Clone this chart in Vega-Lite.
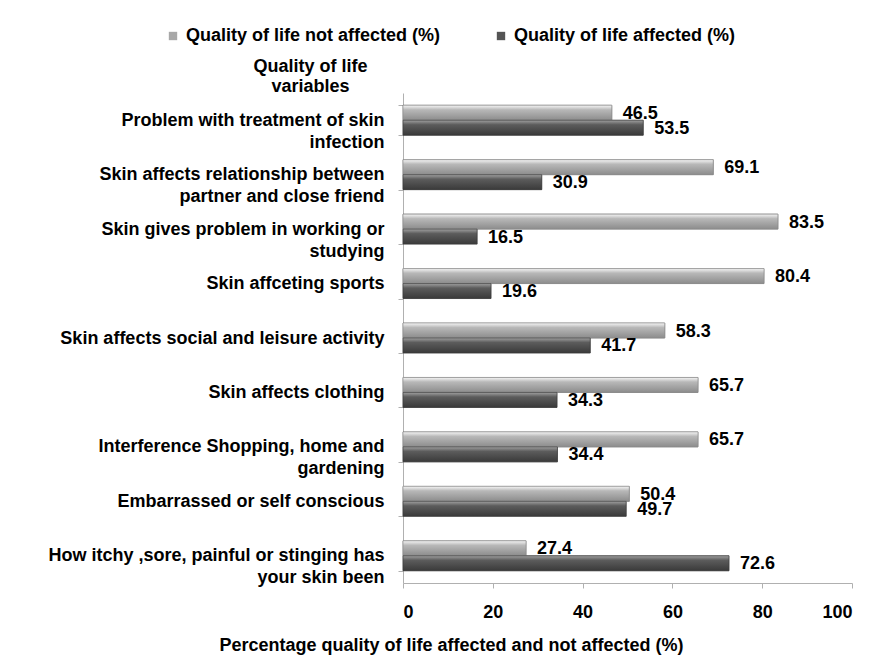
{
  "$schema": "https://vega.github.io/schema/vega-lite/v6.json",
  "width": 449,
  "height": 490,
  "autosize": {"type": "none"},
  "padding": {"left": 403, "top": 93, "right": 30, "bottom": 83},
  "background": "white",
  "config": {
    "font": "Liberation Sans",
    "view": {"stroke": null},
    "axis": {"labelFont": "Liberation Sans", "titleFont": "Liberation Sans", "labelFontWeight": "bold", "titleFontWeight": "bold", "labelColor": "black", "titleColor": "black", "domainColor": "#b0b0b0", "tickColor": "#b0b0b0", "grid": false}
  },
  "data": {
    "values": [
      {"variable": "Problem with treatment  of skin|infection", "series": "Quality of life not affected  (%)", "value": 46.5},
      {"variable": "Problem with treatment  of skin|infection", "series": "Quality of life affected  (%)", "value": 53.5},
      {"variable": "Skin affects  relationship between|partner and close friend", "series": "Quality of life not affected  (%)", "value": 69.1},
      {"variable": "Skin affects  relationship between|partner and close friend", "series": "Quality of life affected  (%)", "value": 30.9},
      {"variable": "Skin gives problem in working or|studying", "series": "Quality of life not affected  (%)", "value": 83.5},
      {"variable": "Skin gives problem in working or|studying", "series": "Quality of life affected  (%)", "value": 16.5},
      {"variable": "Skin affceting  sports", "series": "Quality of life not affected  (%)", "value": 80.4},
      {"variable": "Skin affceting  sports", "series": "Quality of life affected  (%)", "value": 19.6},
      {"variable": "Skin affects  social and leisure activity", "series": "Quality of life not affected  (%)", "value": 58.3},
      {"variable": "Skin affects  social and leisure activity", "series": "Quality of life affected  (%)", "value": 41.7},
      {"variable": "Skin affects  clothing", "series": "Quality of life not affected  (%)", "value": 65.7},
      {"variable": "Skin affects  clothing", "series": "Quality of life affected  (%)", "value": 34.3},
      {"variable": "Interference Shopping, home and|gardening", "series": "Quality of life not affected  (%)", "value": 65.7},
      {"variable": "Interference Shopping, home and|gardening", "series": "Quality of life affected  (%)", "value": 34.4},
      {"variable": "Embarrassed or self conscious", "series": "Quality of life not affected  (%)", "value": 50.4},
      {"variable": "Embarrassed or self conscious", "series": "Quality of life affected  (%)", "value": 49.7},
      {"variable": "How itchy ,sore, painful or stinging has|your skin been", "series": "Quality of life not affected  (%)", "value": 27.4},
      {"variable": "How itchy ,sore, painful or stinging has|your skin been", "series": "Quality of life affected  (%)", "value": 72.6}
    ]
  },
  "encoding": {
    "y": {
      "field": "variable", "type": "nominal", "sort": null,
      "scale": {"paddingInner": 0.45, "paddingOuter": 0.225},
      "axis": {
        "title": ["Quality of  life", "variables"],
        "titleAngle": 0, "titleX": -93, "titleY": -27, "titleAlign": "center", "titleBaseline": "middle",
        "titleFontSize": 18, "titleLineHeight": 20,
        "labelExpr": "split(datum.label, '|')",
        "labelFontSize": 18, "labelLineHeight": 22, "labelPadding": 14, "labelLimit": 400,
        "tickBand": "extent", "tickSize": 5
      }
    },
    "yOffset": {"field": "series", "type": "nominal", "sort": ["Quality of life not affected  (%)", "Quality of life affected  (%)"], "scale": {"paddingInner": 0}},
    "x": {
      "field": "value", "type": "quantitative",
      "scale": {"domain": [0, 100], "nice": false},
      "axis": {
        "title": "Percentage quality of life affected  and not affected  (%)",
        "values": [0, 20, 40, 60, 80, 100],
        "labelFontSize": 18, "labelPadding": 15, "tickSize": 5,
        "titleFontSize": 18, "titleX": 48, "titleY": 62, "titleAlign": "center", "titleBaseline": "middle"
      }
    }
  },
  "layer": [
    {
      "mark": {"type": "bar", "stroke": "#6a6a6a", "strokeWidth": 0.6},
      "encoding": {
        "color": {
          "field": "series", "type": "nominal",
          "sort": ["Quality of life not affected  (%)", "Quality of life affected  (%)"],
          "scale": {"range": ["#a8a8a8", "#555555"]},
          "legend": {
            "title": null, "orient": "none", "direction": "horizontal",
            "legendX": -239, "legendY": -66,
            "symbolType": "square", "symbolSize": 70, "symbolStrokeWidth": 0,
            "labelFontSize": 18, "labelFontWeight": "bold", "labelColor": "black", "labelLimit": 400,
            "columnPadding": 46, "labelOffset": 4
          }
        }
      }
    },
    {
      "transform": [{"filter": "datum.series === 'Quality of life not affected  (%)'"}],
      "mark": {"type": "bar", "stroke": "#8a8a8a", "strokeWidth": 0.6, "color": {"gradient": "linear", "x1": 0, "y1": 0, "x2": 0, "y2": 1, "stops": [{"offset": 0, "color": "#f6f6f6"}, {"offset": 0.3, "color": "#b8b8b8"}, {"offset": 1, "color": "#8c8c8c"}]}},
      "encoding": {}
    },
    {
      "transform": [{"filter": "datum.series === 'Quality of life affected  (%)'"}],
      "mark": {"type": "bar", "stroke": "#3a3a3a", "strokeWidth": 0.6, "color": {"gradient": "linear", "x1": 0, "y1": 0, "x2": 0, "y2": 1, "stops": [{"offset": 0, "color": "#a0a0a0"}, {"offset": 0.3, "color": "#5c5c5c"}, {"offset": 1, "color": "#3a3a3a"}]}},
      "encoding": {}
    },
    {
      "mark": {"type": "text", "align": "left", "baseline": "middle", "dx": 11, "dy": 1, "fontSize": 18, "fontWeight": "bold", "color": "black"},
      "encoding": {
        "text": {"field": "value", "type": "quantitative", "format": ".1f"}
      }
    }
  ]
}
